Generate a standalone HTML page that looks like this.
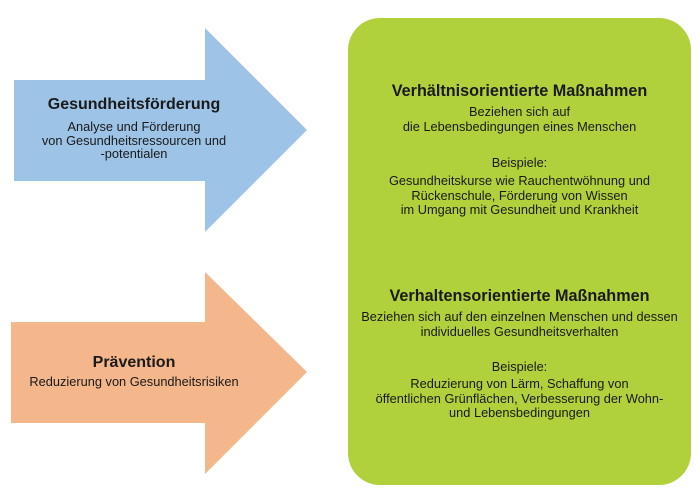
<!DOCTYPE html>
<html><head><meta charset="utf-8"><style>
body{margin:0;width:700px;height:497px;background:#fff;position:relative;overflow:hidden;font-family:"Liberation Sans",Arial,sans-serif;color:#1a1a1a}
.t{position:absolute;left:0;width:100%;text-align:center;white-space:nowrap}
.b{font-weight:bold}
svg{position:absolute;left:0;top:0}
</style></head><body>
<svg width="700" height="497">
<polygon points="14,80 205,80 205,28 307,130 205,232 205,181 14,181" fill="#9dc3e6"/>
<polygon points="11,322 205,322 205,272 307,372 205,474 205,423 11,423" fill="#f4b68b"/>
<rect x="348" y="18" width="343" height="467" rx="32" fill="#b0d13c"/>
</svg>
<div style="position:absolute;left:14px;width:240px;top:0;height:497px">
<div class="t b" style="top:96px;font-size:16px">Gesundheitsförderung</div>
<div class="t" style="top:120px;font-size:12.8px;line-height:13.5px">Analyse und Förderung<br>von Gesundheitsressourcen und<br>-potentialen</div>
<div class="t b" style="top:354px;font-size:16px">Prävention</div>
<div class="t" style="top:374px;font-size:12.8px">Reduzierung von Gesundheitsrisiken</div>
</div>
<div style="position:absolute;left:348px;width:343px;top:0;height:497px">
<div class="t b" style="top:82px;font-size:16.2px">Verhältnisorientierte Maßnahmen</div>
<div class="t" style="top:105px;font-size:12.8px;line-height:14.5px">Beziehen sich auf<br>die Lebensbedingungen eines Menschen</div>
<div class="t" style="top:155px;font-size:12.8px">Beispiele:</div>
<div class="t" style="top:174px;font-size:12.8px;line-height:14.5px">Gesundheitskurse wie Rauchentwöhnung und<br>Rückenschule, Förderung von Wissen<br>im Umgang mit Gesundheit und Krankheit</div>
<div class="t b" style="top:287px;font-size:16.2px">Verhaltensorientierte Maßnahmen</div>
<div class="t" style="top:310px;font-size:12.8px;line-height:14.5px">Beziehen sich auf den einzelnen Menschen und dessen<br>individuelles Gesundheitsverhalten</div>
<div class="t" style="top:359px;font-size:12.8px">Beispiele:</div>
<div class="t" style="top:377px;font-size:12.8px;line-height:14.5px">Reduzierung von Lärm, Schaffung von<br>öffentlichen Grünflächen, Verbesserung der Wohn-<br>und Lebensbedingungen</div>
</div>
</body></html>
